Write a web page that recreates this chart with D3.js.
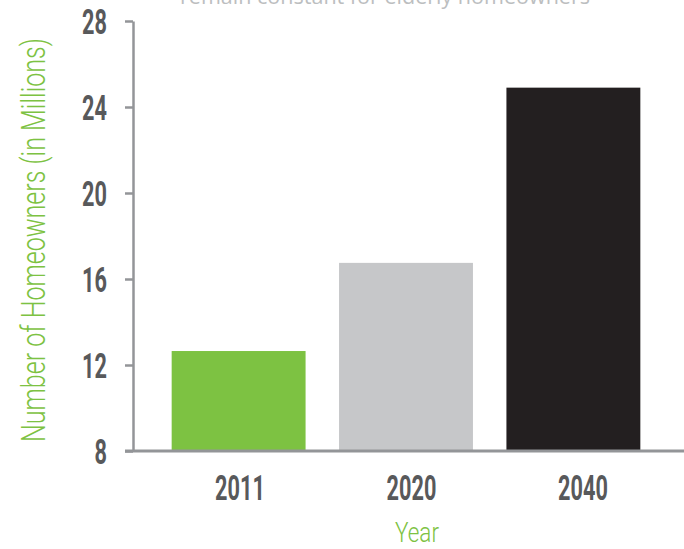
<!DOCTYPE html>
<html>
<head>
<meta charset="utf-8">
<script src="https://cdn.jsdelivr.net/npm/d3@7/dist/d3.min.js"></script>
<style>
  html, body { margin: 0; padding: 0; background: #fff; }
  svg { display: block; }
</style>
</head>
<body>
<svg id="chart" width="684" height="549"></svg>
<script>
// Homeowners aged 65+ (millions)
const years = ["2011", "2020", "2040"];
const homeowners = [12.65, 16.75, 24.9];
const barColors = ["#7dc242", "#c6c7c9", "#231f20"];
const yTicks = [8, 12, 16, 20, 24, 28];
const subtitle = "remain constant for elderly homeowners";
const yTitle = "Number of Homeowners (in Millions)";
const xTitle = "Year";

const svg = d3.select("#chart");
const W = 684, H = 549;
const plotLeft = 133, plotBottom = 451, plotTop = 21;

const tickFont = "Roboto, 'DejaVu Sans Condensed', sans-serif";
const squeeze = 0.62;

const x = d3.scaleBand()
  .domain(years)
  .range([plotLeft, 679])
  .paddingInner(0.2)
  .paddingOuter(0.231);

// year labels sit on a slightly wider grid than the bars
const xLabel = d3.scalePoint()
  .domain(years)
  .range([240, 583]);

const y = d3.scaleLinear()
  .domain([8, 28])
  .range([plotBottom, plotTop]);

// subtitle, clipped at the top edge
svg.append("text")
  .attr("x", 385)
  .attr("y", 4)
  .attr("text-anchor", "middle")
  .attr("font-family", "'Open Sans', sans-serif")
  .attr("font-size", 21)
  .attr("fill", "#bcbec0")
  .attr("textLength", 410)
  .attr("lengthAdjust", "spacingAndGlyphs")
  .text(subtitle);

// bars
svg.append("g")
  .selectAll("rect")
  .data(years)
  .join("rect")
  .attr("x", d => x(d))
  .attr("width", x.bandwidth())
  .attr("y", (d, i) => y(homeowners[i]))
  .attr("height", (d, i) => plotBottom - y(homeowners[i]))
  .attr("fill", (d, i) => barColors[i]);

// y axis
const yAxis = svg.append("g")
  .attr("transform", `translate(${plotLeft},0)`)
  .call(d3.axisLeft(y).tickValues(yTicks).tickSize(8).tickSizeOuter(0).tickFormat(d3.format("d")));
yAxis.select(".domain").attr("stroke", "#939598").attr("stroke-width", 2.5);
yAxis.selectAll(".tick line").attr("stroke", "#939598").attr("stroke-width", 2.5);
yAxis.selectAll(".tick text")
  .attr("x", 0)
  .attr("dy", "0.36em")
  .attr("transform", `translate(-26,0) scale(${squeeze},1)`)
  .attr("font-family", tickFont)
  .attr("font-weight", "bold")
  .attr("font-size", 35)
  .attr("fill", "#58595b");

// x axis baseline running to the right edge
svg.append("line")
  .attr("x1", plotLeft - 8)
  .attr("x2", W)
  .attr("y1", plotBottom)
  .attr("y2", plotBottom)
  .attr("stroke", "#939598")
  .attr("stroke-width", 3);

// year labels
svg.append("g")
  .selectAll("text")
  .data(years)
  .join("text")
  .attr("transform", d => `translate(${xLabel(d)},500) scale(${squeeze},1)`)
  .attr("text-anchor", "middle")
  .attr("font-family", tickFont)
  .attr("font-weight", "bold")
  .attr("font-size", 35)
  .attr("fill", "#58595b")
  .text(d => d);

// axis titles
svg.append("text")
  .attr("transform", "translate(45,240) rotate(-90)")
  .attr("text-anchor", "middle")
  .attr("font-family", "Roboto, sans-serif")
  .attr("font-weight", 300)
  .attr("font-size", 34)
  .attr("fill", "#7dc242")
  .attr("textLength", 404)
  .attr("lengthAdjust", "spacingAndGlyphs")
  .text(yTitle);

svg.append("text")
  .attr("x", 417)
  .attr("y", 542)
  .attr("text-anchor", "middle")
  .attr("font-family", "Roboto, sans-serif")
  .attr("font-weight", 300)
  .attr("font-size", 27)
  .attr("fill", "#7dc242")
  .attr("textLength", 44)
  .attr("lengthAdjust", "spacingAndGlyphs")
  .text(xTitle);
</script>
</body>
</html>
